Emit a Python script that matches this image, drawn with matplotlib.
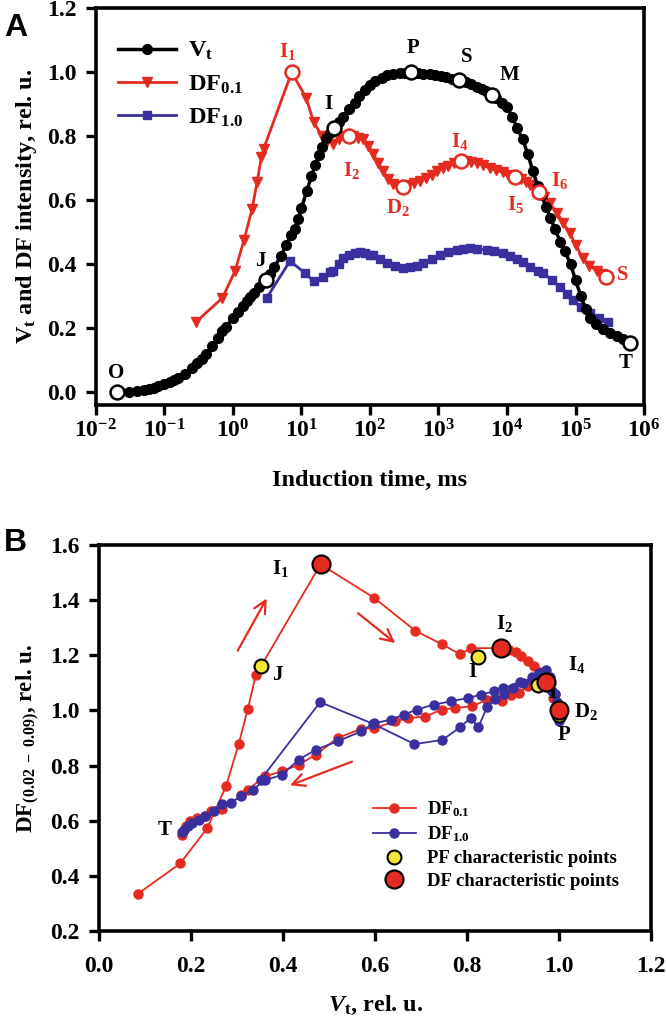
import matplotlib
matplotlib.use("Agg")
import matplotlib.pyplot as plt

plt.rcParams['font.family'] = ['Liberation Serif', 'DejaVu Serif']
plt.rcParams['font.weight'] = 'bold'
plt.rcParams['mathtext.fontset'] = 'custom'
plt.rcParams['mathtext.rm'] = 'Liberation Serif:bold'
plt.rcParams['mathtext.it'] = 'Liberation Serif:bold:italic'
plt.rcParams['mathtext.bf'] = 'Liberation Serif:bold'

# ---- panel A data: induction time (ms) and relative intensity ----
vt_time = [0.02, 0.03, 0.04, 0.05, 0.06, 0.07, 0.08, 0.1, 0.12, 0.14, 0.16, 0.2, 0.25, 0.3,
           0.35, 0.4, 0.5, 0.6, 0.7, 0.8, 1.0, 1.2, 1.4, 1.6, 1.8, 2.0, 2.4, 3.0, 3.5, 4, 5, 6,
           7, 8, 9, 10, 12, 14, 16, 18, 20, 23, 26, 30, 35, 40, 50, 60, 70, 85, 100, 120, 150,
           180, 220, 270, 330, 400, 500, 600, 750, 900, 1100, 1300, 1600, 2000, 2500, 3000,
           3600, 4300, 5000, 6000, 7000, 8500, 10000, 12000, 14000, 17000, 20000, 24000,
           28000, 32000, 37000, 43000, 50000, 60000, 70000, 85000, 100000, 120000, 140000,
           165000, 200000, 250000, 320000, 400000, 500000, 630000]
vt_val = [0.0, 0.002, 0.005, 0.008, 0.011, 0.014, 0.018, 0.025, 0.032, 0.038, 0.045, 0.058,
          0.075, 0.09, 0.105, 0.118, 0.145, 0.17, 0.19, 0.205, 0.232, 0.252, 0.27, 0.285,
          0.298, 0.31, 0.328, 0.35, 0.37, 0.39, 0.425, 0.46, 0.49, 0.51, 0.54, 0.575, 0.63,
          0.675, 0.71, 0.74, 0.765, 0.795, 0.81, 0.825, 0.845, 0.86, 0.885, 0.905, 0.925,
          0.945, 0.96, 0.972, 0.983, 0.99, 0.995, 0.998, 0.999, 1.0, 0.998, 0.996, 0.993,
          0.99, 0.987, 0.984, 0.98, 0.976, 0.97, 0.963, 0.955, 0.948, 0.94, 0.93, 0.92,
          0.905, 0.89, 0.86, 0.825, 0.79, 0.745, 0.69, 0.645, 0.615, 0.58, 0.545, 0.51,
          0.47, 0.44, 0.40, 0.35, 0.30, 0.26, 0.232, 0.212, 0.198, 0.186, 0.176, 0.165, 0.155]

df01_time = [0.29, 0.7, 1.07, 1.45, 1.9, 2.25, 2.6, 2.8, 7.2, 11.7, 15, 20, 24, 29, 35, 42,
             49, 57, 66, 80, 95, 112, 133, 156, 185, 220, 260, 300, 360, 440, 540, 650, 800,
             960, 1150, 1400, 1700, 2100, 2500, 3000, 3600, 4400, 5600, 7000, 8700, 10500,
             13000, 16000, 19000, 22000, 26000, 29700, 35000, 42000, 54000, 66000, 83000,
             100000, 128000, 160000, 205000, 240000, 275000]
df01_val = [0.22, 0.294, 0.378, 0.475, 0.572, 0.656, 0.734, 0.76, 1.0, 0.92, 0.845, 0.80,
            0.785, 0.775, 0.79, 0.80, 0.80, 0.80, 0.795, 0.79, 0.77, 0.745, 0.715, 0.69,
            0.665, 0.65, 0.643, 0.64, 0.648, 0.655, 0.66, 0.67, 0.68, 0.69, 0.70, 0.708,
            0.715, 0.72, 0.722, 0.72, 0.716, 0.71, 0.70, 0.695, 0.687, 0.68, 0.672, 0.665,
            0.658, 0.647, 0.637, 0.625, 0.61, 0.59, 0.56, 0.53, 0.497, 0.46, 0.42, 0.395,
            0.38, 0.37, 0.36]

df10_time = [3.1, 6.8, 11.3, 15, 20.6, 26, 29, 35, 41, 50, 60, 71, 85, 100, 112, 140, 178,
             230, 300, 380, 480, 600, 800, 1050, 1400, 1850, 2300, 2900, 3700, 5100, 6500,
             8700, 11000, 14000, 17000, 22000, 28000, 34000, 45000, 59000, 75000, 91000,
             120000, 162000, 220000, 295000]
df10_val = [0.294, 0.41, 0.372, 0.347, 0.36, 0.375, 0.38, 0.40, 0.418, 0.428, 0.434, 0.437,
            0.435, 0.43, 0.428, 0.415, 0.403, 0.393, 0.387, 0.39, 0.395, 0.403, 0.415, 0.428,
            0.438, 0.444, 0.448, 0.45, 0.448, 0.444, 0.44, 0.434, 0.425, 0.415, 0.406, 0.39,
            0.38, 0.372, 0.35, 0.328, 0.308, 0.287, 0.265, 0.246, 0.232, 0.22]

# characteristic points (open circles) and their labels
vt_pts_t = [0.02, 3.0, 30, 400, 2000, 6000, 630000]
vt_pts_v = [0.0, 0.35, 0.825, 1.0, 0.976, 0.93, 0.155]
vt_lbl = ['O', 'J', 'I', 'P', 'S', 'M', 'T']
vt_lbl_t = [0.0195, 2.5, 24.5, 426, 2570, 10700, 537000]
vt_lbl_v = [0.06, 0.41, 0.90, 1.075, 1.048, 0.99, 0.092]

df_pts_t = [7.2, 49, 300, 2100, 13000, 29700, 275000]
df_pts_v = [1.0, 0.80, 0.64, 0.722, 0.672, 0.625, 0.36]
df_lbl = ['I$_1$', 'I$_2$', 'D$_2$', 'I$_4$', 'I$_5$', 'I$_6$', 'S']
df_lbl_t = [6.3, 54, 257, 2040, 13200, 59000, 490000]
df_lbl_v = [1.064, 0.693, 0.578, 0.782, 0.588, 0.662, 0.366]

# ---- panel B data: DF(0.02-0.09) vs Vt ----
b_red_x = [0.084, 0.176, 0.235, 0.276, 0.303, 0.323, 0.340, 0.481, 0.597, 0.687, 0.745,
           0.784, 0.808, 0.873, 0.89, 0.905, 0.917, 0.931, 0.945, 0.957, 0.968, 0.977,
           0.986, 0.996, 1.003, 0.99, 0.971, 0.931, 0.912, 0.894, 0.875, 0.843, 0.810,
           0.773, 0.745, 0.708, 0.671, 0.643, 0.597, 0.569, 0.518, 0.471, 0.434, 0.397,
           0.360, 0.323, 0.309, 0.267, 0.244, 0.230, 0.212, 0.198, 0.188, 0.179]
b_red_y = [0.335, 0.445, 0.574, 0.727, 0.878, 1.005, 1.127, 1.530, 1.409, 1.289, 1.240,
           1.204, 1.226, 1.226, 1.221, 1.211, 1.196, 1.178, 1.160, 1.141, 1.117, 1.081,
           1.045, 1.015, 1.0, 1.06, 1.105, 1.087, 1.063, 1.057, 1.035, 1.039, 1.015, 1.009,
           1.003, 0.978, 0.972, 0.960, 0.936, 0.933, 0.900, 0.840, 0.803, 0.779, 0.761,
           0.713, 0.692, 0.641, 0.635, 0.616, 0.610, 0.598, 0.580, 0.550]

b_blue_x = [0.351, 0.480, 0.596, 0.685, 0.746, 0.785, 0.807, 0.824, 0.843, 0.86, 0.88, 0.90,
            0.92, 0.94, 0.955, 0.97, 0.98, 0.99, 0.995, 1.0, 0.995, 0.985, 0.975, 0.96,
            0.943, 0.915, 0.878, 0.857, 0.829, 0.801, 0.764, 0.727, 0.69, 0.662, 0.634,
            0.597, 0.569, 0.518, 0.471, 0.434, 0.397, 0.360, 0.334, 0.309, 0.286, 0.267,
            0.249, 0.230, 0.216, 0.202, 0.193, 0.184, 0.179]
b_blue_y = [0.749, 1.030, 0.951, 0.878, 0.893, 0.940, 0.973, 0.940, 1.012, 1.04, 1.06, 1.08,
            1.10, 1.12, 1.135, 1.145, 1.12, 1.06, 1.0, 0.96, 1.03, 1.07, 1.10, 1.11, 1.11,
            1.103, 1.081, 1.069, 1.057, 1.045, 1.033, 1.021, 1.003, 0.985, 0.966, 0.954,
            0.924, 0.888, 0.858, 0.822, 0.767, 0.746, 0.713, 0.689, 0.665, 0.659, 0.635,
            0.616, 0.604, 0.592, 0.580, 0.568, 0.560]

pf_x = [0.351, 0.824, 0.954, 1.0]
pf_y = [1.162, 1.193, 1.092, 0.985]
dfc_x = [0.481, 0.873, 0.970, 1.0]
dfc_y = [1.530, 1.226, 1.105, 1.0]

b_lbl = ['I$_1$', 'J', 'I', 'I$_2$', 'I$_4$', 'D$_2$', 'P', 'T', 'I']
b_lbl_x = [0.393, 0.388, 0.812, 0.880, 1.038, 1.058, 1.01, 0.142, 0.985]
b_lbl_y = [1.515, 1.129, 1.141, 1.316, 1.166, 0.997, 0.912, 0.568, 1.065]

arrows = [((0.298, 1.208), (0.367, 1.415)),
          ((0.558, 1.359), (0.648, 1.238)),
          ((0.555, 0.818), (0.409, 0.725))]

red = '#e52b20'
blue = '#3a2f9e'
yellow = '#f4e634'

fig = plt.figure(figsize=(6.66, 10.33), dpi=100)
axA = fig.add_axes([0.144, 0.608, 0.823, 0.384])
axB = fig.add_axes([0.149, 0.0987, 0.829, 0.3737])

# ---------- panel A ----------
axA.plot(df10_time, df10_val, color=blue, lw=2, marker='s', ms=6, mec=blue, label='DF$_{1.0}$', zorder=2)
axA.plot(df01_time, df01_val, color=red, lw=2, marker='v', ms=6.5, mec=red, label='DF$_{0.1}$', zorder=3)
axA.plot(vt_time, vt_val, color='black', lw=2.5, marker='o', ms=7, label='V$_\\mathrm{t}$', zorder=4)
axA.plot(vt_pts_t, vt_pts_v, ls='none', marker='o', ms=10, mfc='white', mec='black', mew=1.8, zorder=5)
axA.plot(df_pts_t, df_pts_v, ls='none', marker='o', ms=10, mfc='white', mec=red, mew=1.8, zorder=5)
for s, x, y in zip(vt_lbl, vt_lbl_t, vt_lbl_v):
    axA.text(x, y, s, ha='center', va='center', fontsize=15, fontweight='bold', color='black')
for s, x, y in zip(df_lbl, df_lbl_t, df_lbl_v):
    axA.text(x, y, s, ha='center', va='center', fontsize=15, fontweight='bold', color=red)

axA.set_xscale('log')
axA.set_xlim(1e-2, 1e6)
axA.set_ylim(-0.04, 1.2)
axA.set_xticks([10.0 ** k for k in range(-2, 7)])
axA.set_xticklabels(['$10^{%d}$' % k for k in range(-2, 7)])
axA.xaxis.set_minor_locator(matplotlib.ticker.NullLocator())
axA.set_yticks([0.0, 0.2, 0.4, 0.6, 0.8, 1.0, 1.2])
axA.set_yticklabels(['0.0', '0.2', '0.4', '0.6', '0.8', '1.0', '1.2'])
axA.set_xlabel('Induction time, ms', fontsize=17.5, fontweight='bold', labelpad=20)
axA.set_ylabel('V$_\\mathrm{t}$ and DF intensity, rel. u.', fontsize=17.5, fontweight='bold', labelpad=6)

h, l = axA.get_legend_handles_labels()
axA.legend(h[::-1], l[::-1], loc='upper left', bbox_to_anchor=(0.0, 0.975), frameon=False,
           fontsize=17.5, handlelength=2.4, labelspacing=0.45, handletextpad=0.5)

# ---------- panel B ----------
axB.plot(b_red_x, b_red_y, color=red, lw=1.3, marker='o', ms=6.5, mec=red, label='DF$_{0.1}$', zorder=3)
axB.plot(b_blue_x, b_blue_y, color=blue, lw=1.3, marker='o', ms=6.5, mec=blue, label='DF$_{1.0}$', zorder=3)
axB.plot(pf_x, pf_y, ls='none', marker='o', ms=10, mfc=yellow, mec='black', mew=1.5,
         label='PF characteristic points', zorder=4)
axB.plot(dfc_x, dfc_y, ls='none', marker='o', ms=13, mfc=red, mec='black', mew=1.5,
         label='DF characteristic points', zorder=5)
for s, x, y in zip(b_lbl, b_lbl_x, b_lbl_y):
    axB.text(x, y, s, ha='center', va='center', fontsize=15, fontweight='bold', color='black')
for (x0, y0), (x1, y1) in arrows:
    axB.annotate('', xy=(x1, y1), xytext=(x0, y0),
                 arrowprops=dict(arrowstyle='->', color=red, lw=1.6, mutation_scale=22))

axB.set_xlim(0, 1.2)
axB.set_ylim(0.2, 1.6)
axB.set_xticks([0.0, 0.2, 0.4, 0.6, 0.8, 1.0, 1.2])
axB.set_xticklabels(['0.0', '0.2', '0.4', '0.6', '0.8', '1.0', '1.2'])
axB.set_yticks([0.2, 0.4, 0.6, 0.8, 1.0, 1.2, 1.4, 1.6])
axB.set_yticklabels(['0.2', '0.4', '0.6', '0.8', '1.0', '1.2', '1.4', '1.6'])
axB.set_xlabel('$V_\\mathrm{t}$, rel. u.', fontsize=17.5, fontweight='bold', labelpad=12)
axB.set_ylabel('DF$_{(0.02\\ -\\ 0.09)}$, rel. u.', fontsize=16.5, fontweight='bold', labelpad=6)
axB.legend(loc='upper left', bbox_to_anchor=(0.465, 0.385), frameon=False, fontsize=13.5,
           handlelength=2.3, labelspacing=0.3, handletextpad=0.6)

for ax in (axA, axB):
    for sp in ax.spines.values():
        sp.set_linewidth(2.6)
    ax.tick_params(axis='both', which='major', direction='out', length=7, width=2.4,
                   labelsize=17, top=False, right=False)
    ax.tick_params(axis='y', pad=7)
    for lab in ax.get_xticklabels() + ax.get_yticklabels():
        lab.set_fontweight('bold')
axA.tick_params(axis='x', pad=3)
axB.tick_params(axis='x', pad=11)

fig.text(0.006, 0.973, 'A', fontsize=23, fontweight='bold', family='Liberation Sans', va='center')
fig.text(0.006, 0.474, 'B', fontsize=23, fontweight='bold', family='Liberation Sans', va='center')

fig.savefig('out.png', dpi=100)
